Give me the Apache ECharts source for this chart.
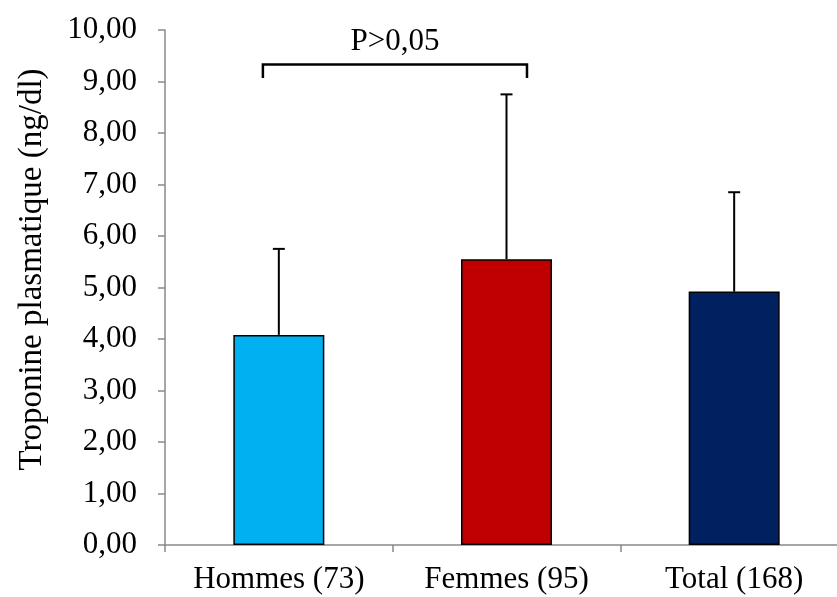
<!DOCTYPE html>
<html><head><meta charset="utf-8">
<script src="https://cdn.jsdelivr.net/npm/echarts@6/dist/echarts.min.js"></script>
<style>html,body{margin:0;padding:0;background:#fff}#c{width:837px;height:597px}</style>
</head><body><div id="c"></div>
<script>
const categories = ['Hommes (73)', 'Femmes (95)', 'Total (168)'];
const means = [4.08, 5.55, 4.92];
const errorTops = [5.75, 8.75, 6.85];
const colors = ['#00B0F0', '#C00000', '#002060'];
const yTicks = [0, 10, 1];
const bracketLevel = 9.33;
const bracketDrop = 0.26;
const bracketText = 'P>0,05';

const chart = echarts.init(document.getElementById('c'), null, {renderer: 'canvas'});
const font = '"Liberation Serif", "Times New Roman", serif';
chart.setOption({
  animation: false,
  grid: {left: 165, top: 30, width: 683, height: 515, outerBoundsMode: 'none', containLabel: false},
  xAxis: {
    type: 'category', data: categories,
    axisLine: {lineStyle: {color: '#898989', width: 1.5}},
    axisTick: {show: true, length: 7, lineStyle: {color: '#898989', width: 1.5}},
    axisLabel: {color: '#000', fontFamily: font, fontSize: 31, margin: 19}
  },
  yAxis: {
    type: 'value', min: yTicks[0], max: yTicks[1], interval: yTicks[2],
    name: 'Troponine plasmatique (ng/dl)', nameLocation: 'middle', nameGap: 116,
    nameTextStyle: {color: '#000', fontFamily: font, fontSize: 33, padding: [0, 0, 0, 36]},
    axisLine: {show: true, lineStyle: {color: '#898989', width: 1.5}},
    axisTick: {show: true, length: 7, lineStyle: {color: '#898989', width: 1.5}},
    splitLine: {show: false},
    axisLabel: {color: '#000', fontFamily: font, fontSize: 31, margin: 28,
      formatter: v => v.toFixed(2).replace('.', ',')}
  },
  series: [
    {
      type: 'bar', barWidth: 91,
      data: means.map((v, i) => ({value: v, itemStyle: {color: colors[i]}})),
      itemStyle: {borderColor: '#000', borderWidth: 1.5},
      z: 2
    },
    {
      type: 'custom', z: 3,
      data: means.map((m, i) => [i, m, errorTops[i]]),
      renderItem: (params, api) => {
        const b = api.coord([api.value(0), api.value(1)]);
        const t = api.coord([api.value(0), api.value(2)]);
        return {type: 'group', children: [
          {type: 'line', shape: {x1: b[0], y1: b[1], x2: t[0], y2: t[1]}, style: {stroke: '#000', lineWidth: 2}},
          {type: 'line', shape: {x1: t[0] - 6, y1: t[1], x2: t[0] + 6, y2: t[1]}, style: {stroke: '#000', lineWidth: 2}}
        ]};
      }
    },
    {
      type: 'custom', z: 4,
      data: [[0, 1, bracketLevel]],
      renderItem: (params, api) => {
        const bw = api.size([1, 0])[0];
        const a = api.coord([api.value(0), api.value(2)]);
        const c = api.coord([api.value(1), api.value(2)]);
        const d = api.coord([api.value(1), api.value(2) - bracketDrop]);
        const x1 = a[0] - 0.07 * bw, x2 = c[0] + 0.09 * bw;
        return {type: 'group', children: [
          {type: 'polyline', shape: {points: [[x1, d[1]], [x1, a[1]], [x2, a[1]], [x2, d[1]]]},
            style: {stroke: '#000', lineWidth: 2.5, fill: null}},
          {type: 'text', style: {text: bracketText, x: (x1 + x2) / 2, y: a[1] - 7,
            align: 'center', verticalAlign: 'bottom', fill: '#000', font: '31px ' + font}}
        ]};
      }
    }
  ]
});
</script></body></html>
